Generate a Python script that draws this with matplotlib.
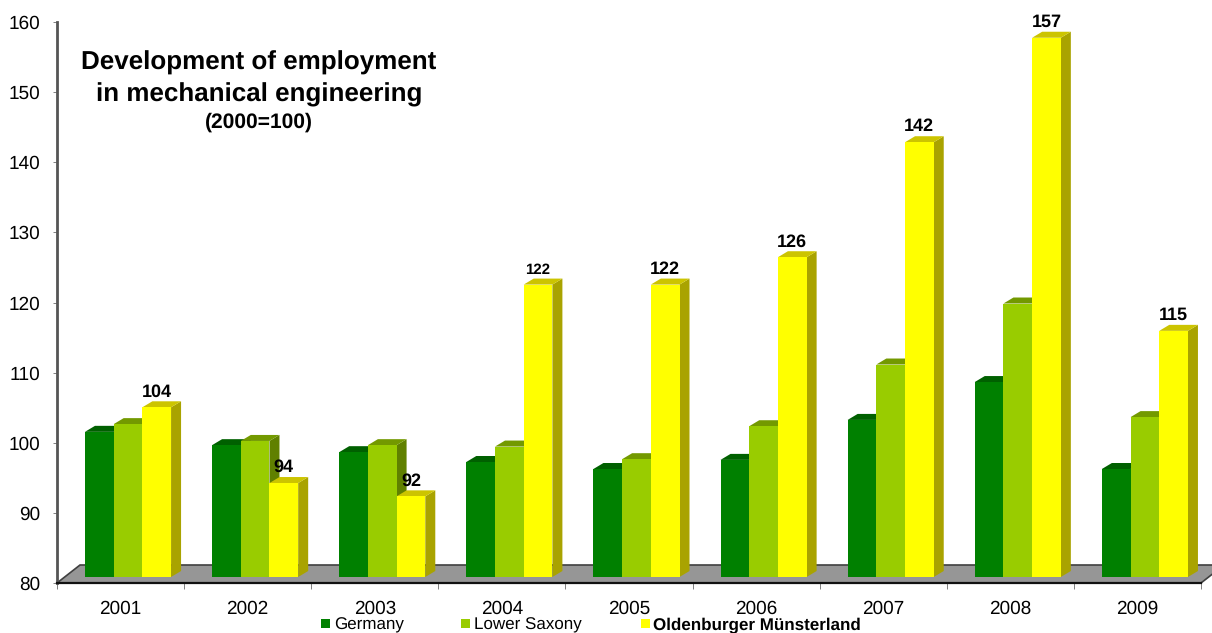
# -*- coding: utf-8 -*-

import matplotlib
matplotlib.use("Agg")
import matplotlib.pyplot as plt
from matplotlib.patches import Polygon, Rectangle

plt.rcParams['font.family'] = ['Liberation Sans', 'DejaVu Sans']
plt.rcParams['text.hinting'] = 'no_hinting'
plt.rcParams['text.hinting_factor'] = 1

years = ["2001", "2002", "2003", "2004", "2005", "2006", "2007", "2008", "2009"]
germany = [100.7, 98.8, 97.8, 96.4, 95.4, 96.7, 102.4, 107.8, 95.4]
lower_saxony = [101.8, 99.4, 98.8, 98.6, 96.8, 101.5, 110.3, 119.0, 102.8]
oldenburger = [104.2, 93.4, 91.5, 121.7, 121.7, 125.6, 142.0, 156.9, 115.1]
labels = ["104", "94", "92", "122", "122", "126", "142", "157", "115"]
yticks = [80, 90, 100, 110, 120, 130, 140, 150, 160]

W, H = 1212, 633
AX_L, AX_R, AX_T, AX_B = 57, 1201, 22, 583

fig = plt.figure(figsize=(W / 100, H / 100), dpi=100)
ax = fig.add_axes([AX_L / W, 1 - AX_B / H, (AX_R - AX_L) / W, (AX_B - AX_T) / H])
ax.set_xlim(0, 9)
ax.set_ylim(80, 160)

# pixel sizes turned into data units
px_x = 9.0 / (AX_R - AX_L)
px_y = 80.0 / (AX_B - AX_T)
lift = 6 * px_y
depth_x = 10 * px_x
depth_y = 6 * px_y
bar_w = 28.7 * px_x
start = 0.22

# floor
floor = Polygon([(0, 80), (9, 80), (9 + 23 * px_x, 80 + 18 * px_y), (23 * px_x, 80 + 18 * px_y)],
                closed=True, facecolor="#969696", edgecolor="#404040", lw=1.2, clip_on=False, zorder=1)
ax.add_patch(floor)

series = [
    (germany, "#008000", "#006000", "#005500", "Germany"),
    (lower_saxony, "#99CC00", "#739900", "#608000", "Lower Saxony"),
    (oldenburger, "#FFFF00", "#CCC400", "#A9A300", "Oldenburger Münsterland"),
]

# back to front so neighbouring bars overlap like in 3d
for i in range(len(years)):
    for j in range(3):
        vals, front, top, side, name = series[j]
        v = vals[i] + lift
        x0 = i + start + j * bar_w
        x1 = x0 + bar_w
        z = 2 + j
        ax.add_patch(Polygon([(x1, 80 + lift), (x1 + depth_x, 80 + lift + depth_y),
                              (x1 + depth_x, v + depth_y), (x1, v)],
                             closed=True, facecolor=side, edgecolor="none", zorder=z))
        ax.add_patch(Polygon([(x0, v), (x1, v), (x1 + depth_x, v + depth_y), (x0 + depth_x, v + depth_y)],
                             closed=True, facecolor=top, edgecolor="none", zorder=z))
        ax.bar(x0, vals[i] - 80, width=bar_w, bottom=80 + lift, align='edge',
               color=front, edgecolor="none", zorder=z + 0.5)

# value labels on the yellow bars
for i in range(len(years)):
    xc = i + start + 2.5 * bar_w
    size = 11 if i == 3 else 13.3
    ax.text(xc, oldenburger[i] + lift + depth_y + 0.15, labels[i], ha='center', va='bottom',
            fontsize=size, fontweight='bold', color="black", zorder=10)

# axes
for s in ['top', 'right']:
    ax.spines[s].set_visible(False)
ax.spines['left'].set_color("#555555")
ax.spines['left'].set_linewidth(2)
ax.spines['bottom'].set_color("#111111")
ax.spines['bottom'].set_linewidth(1.6)
ax.spines['left'].set_zorder(5)
ax.spines['bottom'].set_zorder(5)

ax.set_yticks(yticks)
ax.tick_params(axis='y', length=3, width=0.7, color="#808080", labelsize=13.4, pad=9)
ax.set_xticks(range(10))
ax.set_xticklabels([])
ax.tick_params(axis='x', which='major', length=4, width=0.7, color="#808080")
ax.set_xticks([i + 0.5 for i in range(9)], labels=years, minor=True)
ax.tick_params(axis='x', which='minor', length=0, labelsize=13.4, pad=12.3)

# title block
title_x = (259 - AX_L) / (AX_R - AX_L)
ax.text(title_x, 1 - (63 - AX_T) / (AX_B - AX_T), "Development of employment", transform=ax.transAxes,
        ha='center', va='center', fontsize=19.05, fontweight='bold')
ax.text(title_x, 1 - (95 - AX_T) / (AX_B - AX_T), "in mechanical engineering", transform=ax.transAxes,
        ha='center', va='center', fontsize=19.05, fontweight='bold')
ax.text(title_x, 1 - (122 - AX_T) / (AX_B - AX_T), "(2000=100)", transform=ax.transAxes,
        ha='center', va='center', fontsize=15, fontweight='bold')

# legend under the axis, entries are unevenly spaced
legend_x = [321, 461, 641]
legend_tx = [334, 474, 653]
for k in range(3):
    fig.add_artist(Rectangle((legend_x[k] / W, 1 - 628 / H), 9 / W, 9 / H, transform=fig.transFigure,
                             facecolor=series[k][1], edgecolor="none"))
    fig.text(legend_tx[k] / W, 1 - 629.5 / H, series[k][4], ha='left', va='baseline', fontsize=12.3,
             fontweight='bold' if k == 2 else 'normal')

fig.savefig("out.png", dpi=100)
